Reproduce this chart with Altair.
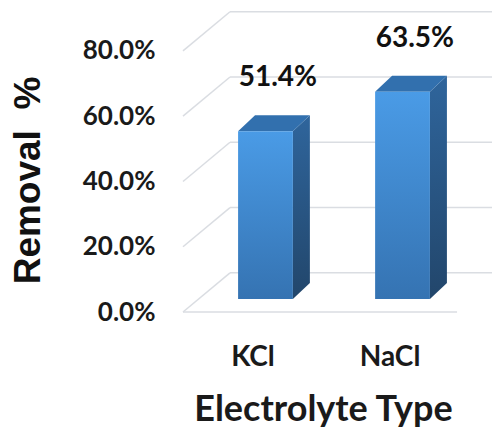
import json
import altair as alt
import pandas as pd

# Removal efficiency by electrolyte
categories = ["KCl", "NaCl"]
removal = [0.514, 0.635]
tick_values = [0.0, 0.2, 0.4, 0.6, 0.8]

# Layout of the pseudo-3D scene (data units: 1 x-unit = category spacing)
X_MIN, X_MAX = -0.602, 1.653
Y_MIN, Y_MAX = 0.0, 0.956
HALF_W = 0.2          # half width of a bar's front face
BAR_BASE = 0.04       # bars stand a little behind the floor's front edge
BAR_DX, BAR_DY = 0.124, 0.049   # bar depth
GRID_DX, GRID_DY = 0.343, 0.12  # wall depth
FLOOR_RIGHT = 1.398

FONT = "Lato"
GRID = "#DADDE2"

xs = alt.Scale(domain=[X_MIN, X_MAX], nice=False, zero=False)
ys = alt.Scale(domain=[Y_MIN, Y_MAX], nice=False, zero=False)

label_expr = json.dumps(categories) + "[datum.value]"

x_axis = alt.Axis(
    values=list(range(len(categories))), labelExpr=label_expr,
    grid=False, domain=False, ticks=False, tickSize=0,
    labelFont=FONT, labelFontSize=28, labelFontWeight="bold",
    labelColor="#1a1a1a", labelPadding=31, labelOffset=-13,
    title="Electrolyte Type", titleFont=FONT, titleFontSize=36,
    titleFontWeight="bold", titleColor="#1a1a1a",
    titleX=140, titleY=97, titleAlign="center", titleBaseline="middle",
)
y_axis = alt.Axis(
    values=tick_values, format=".1%", grid=False, domain=False,
    ticks=False, tickSize=0, labelFont=FONT, labelFontSize=26,
    labelFontWeight="bold", labelColor="#1a1a1a", labelPadding=28,
    title="Removal\u00a0\u00a0%", titleFont="Liberation Sans",
    titleFontSize=37, titleFontWeight="bold", titleColor="#111111",
    titleAngle=-90, titleX=-155, titleY=180, titleAlign="center",
    titleBaseline="middle",
)

# ---- walls and floor -------------------------------------------------------
wall_rows = []
for t in tick_values:
    # side wall: front-left edge back to the back wall
    wall_rows.append({"x": X_MIN, "y": t, "x2": X_MIN + GRID_DX, "y2": t + GRID_DY})
    # back wall gridline
    wall_rows.append({"x": X_MIN + GRID_DX, "y": t + GRID_DY, "x2": X_MAX, "y2": t + GRID_DY})
# floor front edge
wall_rows.append({"x": X_MIN, "y": 0.0, "x2": FLOOR_RIGHT, "y2": 0.0})
walls = pd.DataFrame(wall_rows)

# ---- bars ------------------------------------------------------------------
bars = pd.DataFrame({"cat": categories, "i": range(len(categories)), "v": removal})
bars["x"] = bars["i"] - HALF_W
bars["x2"] = bars["i"] + HALF_W
bars["y"] = BAR_BASE
bars["y2"] = BAR_BASE + bars["v"]
bars["lx"] = bars["i"] + 0.09
bars["ly"] = bars["y2"]

side_rows, top_rows = [], []
for _, r in bars.iterrows():
    side_rows.append({"cat": r["cat"], "x": r["x2"], "top": r["y2"], "bot": r["y"]})
    side_rows.append({"cat": r["cat"], "x": r["x2"] + BAR_DX,
                      "top": r["y2"] + BAR_DY, "bot": r["y"] + BAR_DY})
    top_rows.append({"cat": r["cat"], "y": r["y2"], "xl": r["x"], "xr": r["x2"]})
    top_rows.append({"cat": r["cat"], "y": r["y2"] + BAR_DY,
                     "xl": r["x"] + BAR_DX, "xr": r["x2"] + BAR_DX})
side = pd.DataFrame(side_rows)
top = pd.DataFrame(top_rows)


def grad(c0, c1):
    return alt.Gradient(
        gradient="linear",
        stops=[alt.GradientStop(color=c0, offset=0), alt.GradientStop(color=c1, offset=1)],
        x1=0, x2=0, y1=0, y2=1,
    )


wall_layer = alt.Chart(walls).mark_rule(color=GRID, strokeWidth=1.5).encode(
    x=alt.X("x:Q", scale=xs, axis=x_axis),
    x2="x2:Q",
    y=alt.Y("y:Q", scale=ys, axis=y_axis),
    y2="y2:Q",
)

side_layer = alt.Chart(side).mark_area(color=grad("#2F659C", "#22466B")).encode(
    x=alt.X("x:Q", scale=xs, axis=x_axis),
    y=alt.Y("top:Q", scale=ys, axis=y_axis),
    y2="bot:Q",
    detail="cat:N",
)

top_layer = alt.Chart(top).mark_area(orient="horizontal", color="#3270AE").encode(
    y=alt.Y("y:Q", scale=ys, axis=y_axis),
    x=alt.X("xl:Q", scale=xs, axis=x_axis),
    x2="xr:Q",
    detail="cat:N",
)

front_layer = alt.Chart(bars).mark_rect(color=grad("#4A9BE6", "#3573B2")).encode(
    x=alt.X("x:Q", scale=xs, axis=x_axis),
    x2="x2:Q",
    y=alt.Y("y:Q", scale=ys, axis=y_axis),
    y2="y2:Q",
)

label_layer = alt.Chart(bars).mark_text(
    font=FONT, fontSize=28, fontWeight="bold", color="#111111",
    baseline="alphabetic", dy=-45,
).encode(
    x=alt.X("lx:Q", scale=xs, axis=x_axis),
    y=alt.Y("ly:Q", scale=ys, axis=y_axis),
    text=alt.Text("v:Q", format=".1%"),
)

chart = alt.layer(
    wall_layer, side_layer, top_layer, front_layer, label_layer
).properties(
    width=309, height=312,
    autosize="none",
    padding={"left": 183, "top": 0, "right": 0, "bottom": 118},
    background="white",
).configure_view(stroke=None)

chart.save("out.html", embed_options={"renderer": "svg", "actions": False})
